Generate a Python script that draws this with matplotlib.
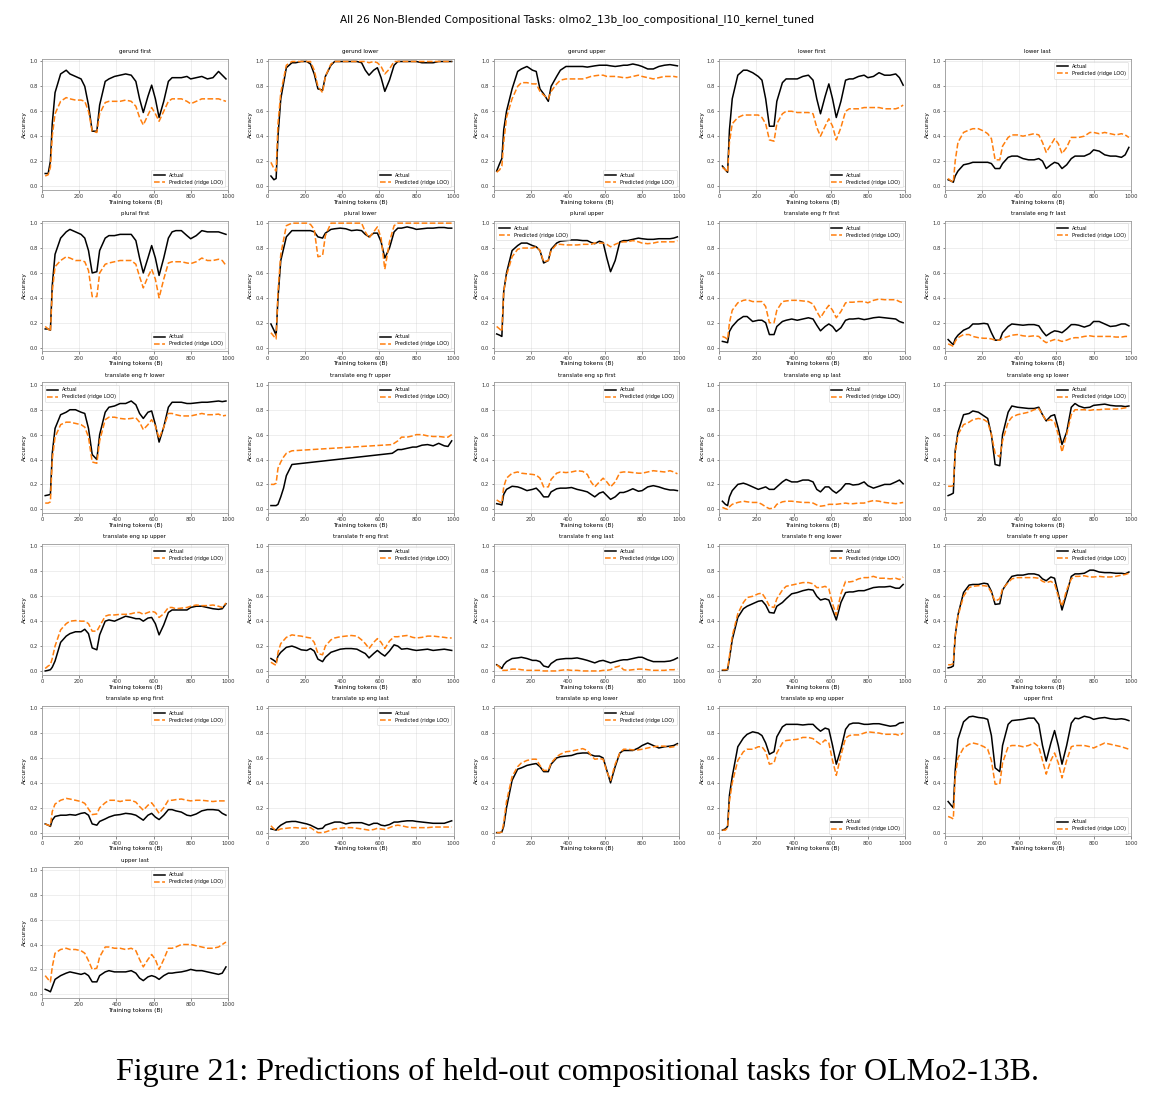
import matplotlib
matplotlib.use("Agg")
import matplotlib.pyplot as plt

# ---------------- data ----------------
tokens = [17, 33, 45, 55, 70, 100, 130, 150, 180, 210, 230, 250, 270, 295,
          310, 340, 360, 390, 420, 450, 480, 505, 525, 545, 570, 590, 610, 630,
          655, 680, 700, 720, 750, 780, 800, 830, 860, 890, 920, 950, 970, 990]
tokens_eng_fr_upper = [17, 33, 45, 55, 70, 85, 100, 130, 670, 700, 720, 750, 780,
                       800, 830, 860, 890, 920, 950, 970, 990]

task_names = ["gerund first", "gerund lower", "gerund upper", "lower first", "lower last",
              "plural first", "plural lower", "plural upper", "translate eng fr first",
              "translate eng fr last", "translate eng fr lower", "translate eng fr upper",
              "translate eng sp first", "translate eng sp last", "translate eng sp lower",
              "translate eng sp upper", "translate fr eng first", "translate fr eng last",
              "translate fr eng lower", "translate fr eng upper", "translate sp eng first",
              "translate sp eng last", "translate sp eng lower", "translate sp eng upper",
              "upper first", "upper last"]

legend_locs = ["lower right", "lower right", "lower right", "lower right", "upper right",
               "lower right", "lower right", "upper left", "upper right",
               "upper right", "upper left", "upper right",
               "upper right", "upper right", "upper right",
               "upper right", "upper right", "upper right",
               "upper right", "upper right", "upper right",
               "upper right", "upper right", "lower right",
               "lower right", "upper right"]

act_gerund_first = [0.10, 0.10, 0.20, 0.50, 0.75, 0.90, 0.93, 0.90, 0.88, 0.86, 0.80, 0.65, 0.44, 0.44,
                    0.65, 0.84, 0.86, 0.88, 0.89, 0.90, 0.89, 0.84, 0.70, 0.59, 0.72, 0.81, 0.70, 0.55,
                    0.68, 0.84, 0.87, 0.87, 0.87, 0.88, 0.86, 0.87, 0.88, 0.86, 0.87, 0.92, 0.89, 0.86]
pred_gerund_first = [0.08, 0.09, 0.15, 0.40, 0.58, 0.68, 0.71, 0.70, 0.69, 0.69, 0.68, 0.60, 0.44, 0.43,
                     0.58, 0.67, 0.68, 0.68, 0.68, 0.69, 0.68, 0.64, 0.55, 0.49, 0.57, 0.63, 0.58, 0.52,
                     0.60, 0.68, 0.70, 0.70, 0.70, 0.68, 0.66, 0.68, 0.70, 0.70, 0.70, 0.70, 0.69, 0.68]

act_gerund_lower = [0.08, 0.05, 0.06, 0.40, 0.70, 0.95, 0.99, 0.99, 1.00, 1.00, 0.98, 0.90, 0.78, 0.77,
                    0.88, 0.97, 1.00, 1.00, 1.00, 1.00, 1.00, 0.99, 0.93, 0.89, 0.93, 0.95, 0.87, 0.76,
                    0.85, 0.97, 1.00, 1.00, 1.00, 1.00, 1.00, 0.99, 0.99, 0.99, 1.00, 1.00, 1.00, 1.00]
pred_gerund_lower = [0.19, 0.14, 0.12, 0.50, 0.75, 0.97, 1.00, 1.00, 1.00, 1.00, 1.00, 0.93, 0.80, 0.75,
                     0.88, 0.98, 1.00, 1.00, 1.00, 1.00, 1.00, 1.00, 1.00, 0.99, 1.00, 0.99, 0.96, 0.90,
                     0.94, 1.00, 1.00, 1.00, 1.00, 1.00, 1.00, 1.00, 1.00, 1.00, 1.00, 1.00, 1.00, 1.00]

act_gerund_upper = [0.12, 0.18, 0.22, 0.45, 0.60, 0.78, 0.92, 0.94, 0.96, 0.93, 0.92, 0.78, 0.74, 0.68,
                    0.80, 0.88, 0.93, 0.96, 0.96, 0.96, 0.96, 0.955, 0.96, 0.965, 0.97, 0.97, 0.97, 0.965,
                    0.96, 0.965, 0.97, 0.97, 0.98, 0.97, 0.96, 0.94, 0.94, 0.96, 0.97, 0.975, 0.97, 0.965]
pred_gerund_upper = [0.11, 0.13, 0.16, 0.35, 0.55, 0.70, 0.80, 0.83, 0.83, 0.82, 0.82, 0.76, 0.73, 0.70,
                     0.76, 0.82, 0.85, 0.86, 0.86, 0.86, 0.86, 0.87, 0.88, 0.885, 0.89, 0.89, 0.88, 0.88,
                     0.88, 0.875, 0.87, 0.87, 0.88, 0.89, 0.88, 0.87, 0.86, 0.87, 0.88, 0.88, 0.88, 0.875]

act_lower_first = [0.16, 0.13, 0.11, 0.45, 0.70, 0.89, 0.93, 0.93, 0.91, 0.88, 0.85, 0.70, 0.48, 0.48,
                   0.68, 0.83, 0.86, 0.86, 0.86, 0.88, 0.89, 0.85, 0.70, 0.58, 0.72, 0.82, 0.70, 0.55,
                   0.68, 0.85, 0.86, 0.86, 0.88, 0.89, 0.87, 0.88, 0.91, 0.89, 0.89, 0.90, 0.87, 0.81]
pred_lower_first = [0.15, 0.13, 0.11, 0.35, 0.50, 0.55, 0.57, 0.57, 0.57, 0.57, 0.55, 0.50, 0.37, 0.36,
                    0.50, 0.58, 0.60, 0.60, 0.59, 0.59, 0.59, 0.58, 0.47, 0.40, 0.48, 0.54, 0.48, 0.37,
                    0.47, 0.60, 0.62, 0.62, 0.62, 0.63, 0.63, 0.63, 0.63, 0.62, 0.62, 0.62, 0.63, 0.65]

act_lower_last = [0.05, 0.04, 0.03, 0.08, 0.12, 0.17, 0.18, 0.19, 0.19, 0.19, 0.19, 0.18, 0.14, 0.14,
                  0.18, 0.23, 0.24, 0.24, 0.22, 0.21, 0.21, 0.22, 0.20, 0.14, 0.17, 0.19, 0.18, 0.14,
                  0.17, 0.22, 0.24, 0.24, 0.24, 0.26, 0.29, 0.28, 0.25, 0.24, 0.24, 0.23, 0.25, 0.31]
pred_lower_last = [0.06, 0.04, 0.03, 0.20, 0.35, 0.43, 0.45, 0.46, 0.46, 0.44, 0.42, 0.38, 0.21, 0.21,
                   0.32, 0.39, 0.41, 0.41, 0.40, 0.41, 0.42, 0.41, 0.35, 0.27, 0.33, 0.38, 0.34, 0.26,
                   0.31, 0.39, 0.39, 0.39, 0.40, 0.43, 0.43, 0.42, 0.43, 0.42, 0.41, 0.42, 0.41, 0.39]

act_plural_first = [0.15, 0.15, 0.14, 0.50, 0.75, 0.88, 0.93, 0.95, 0.93, 0.91, 0.88, 0.78, 0.60, 0.61,
                    0.78, 0.88, 0.90, 0.90, 0.91, 0.91, 0.91, 0.86, 0.72, 0.60, 0.72, 0.82, 0.72, 0.58,
                    0.72, 0.88, 0.93, 0.94, 0.94, 0.90, 0.875, 0.90, 0.94, 0.93, 0.93, 0.93, 0.92, 0.91]
pred_plural_first = [0.17, 0.15, 0.13, 0.45, 0.65, 0.70, 0.73, 0.72, 0.70, 0.70, 0.69, 0.62, 0.41, 0.41,
                     0.60, 0.67, 0.68, 0.69, 0.70, 0.70, 0.70, 0.67, 0.57, 0.48, 0.57, 0.63, 0.55, 0.40,
                     0.55, 0.68, 0.69, 0.69, 0.69, 0.68, 0.675, 0.69, 0.72, 0.70, 0.70, 0.71, 0.70, 0.66]

act_plural_lower = [0.19, 0.14, 0.10, 0.40, 0.70, 0.89, 0.94, 0.94, 0.94, 0.94, 0.94, 0.93, 0.89, 0.88,
                    0.92, 0.95, 0.955, 0.96, 0.955, 0.94, 0.945, 0.94, 0.91, 0.89, 0.92, 0.92, 0.85, 0.72,
                    0.80, 0.93, 0.96, 0.96, 0.97, 0.96, 0.95, 0.955, 0.96, 0.96, 0.965, 0.965, 0.96, 0.96]
pred_plural_lower = [0.12, 0.09, 0.07, 0.45, 0.75, 0.98, 1.00, 1.00, 1.00, 1.00, 0.99, 0.95, 0.73, 0.74,
                     0.90, 1.00, 1.00, 1.00, 1.00, 1.00, 1.00, 1.00, 0.93, 0.88, 0.93, 0.97, 0.88, 0.63,
                     0.85, 0.98, 1.00, 1.00, 1.00, 1.00, 1.00, 1.00, 1.00, 1.00, 1.00, 1.00, 1.00, 1.00]

act_plural_upper = [0.11, 0.10, 0.09, 0.45, 0.60, 0.78, 0.82, 0.84, 0.84, 0.82, 0.81, 0.78, 0.68, 0.70,
                    0.79, 0.84, 0.855, 0.86, 0.865, 0.865, 0.86, 0.86, 0.845, 0.835, 0.855, 0.845, 0.72, 0.61,
                    0.70, 0.85, 0.86, 0.86, 0.87, 0.88, 0.875, 0.87, 0.87, 0.875, 0.875, 0.875, 0.88, 0.89]
pred_plural_upper = [0.17, 0.15, 0.13, 0.45, 0.58, 0.73, 0.79, 0.80, 0.80, 0.80, 0.81, 0.78, 0.69, 0.70,
                     0.78, 0.83, 0.83, 0.825, 0.825, 0.825, 0.83, 0.83, 0.83, 0.84, 0.84, 0.84, 0.83, 0.81,
                     0.83, 0.845, 0.85, 0.85, 0.86, 0.85, 0.84, 0.835, 0.84, 0.85, 0.85, 0.85, 0.85, 0.86]

act_eng_fr_first = [0.05, 0.045, 0.04, 0.13, 0.17, 0.22, 0.25, 0.25, 0.21, 0.22, 0.22, 0.20, 0.105, 0.105,
                    0.17, 0.21, 0.22, 0.23, 0.22, 0.23, 0.24, 0.23, 0.18, 0.135, 0.17, 0.19, 0.17, 0.13,
                    0.16, 0.22, 0.23, 0.23, 0.235, 0.225, 0.23, 0.24, 0.245, 0.24, 0.235, 0.23, 0.21, 0.20]
pred_eng_fr_first = [0.09, 0.08, 0.065, 0.20, 0.30, 0.36, 0.38, 0.385, 0.37, 0.37, 0.37, 0.33, 0.20, 0.20,
                     0.30, 0.37, 0.375, 0.38, 0.38, 0.375, 0.37, 0.35, 0.29, 0.24, 0.30, 0.34, 0.30, 0.24,
                     0.29, 0.36, 0.365, 0.365, 0.37, 0.37, 0.36, 0.38, 0.39, 0.385, 0.385, 0.385, 0.37, 0.36]

act_eng_fr_last = [0.065, 0.04, 0.025, 0.07, 0.10, 0.14, 0.16, 0.19, 0.19, 0.195, 0.19, 0.12, 0.06, 0.06,
                   0.12, 0.17, 0.19, 0.185, 0.18, 0.185, 0.185, 0.175, 0.13, 0.095, 0.12, 0.135, 0.13, 0.12,
                   0.15, 0.185, 0.185, 0.18, 0.165, 0.18, 0.21, 0.21, 0.19, 0.17, 0.175, 0.19, 0.19, 0.175]
pred_eng_fr_last = [0.03, 0.02, 0.01, 0.05, 0.08, 0.105, 0.105, 0.09, 0.08, 0.075, 0.075, 0.07, 0.06, 0.06,
                    0.075, 0.09, 0.10, 0.105, 0.095, 0.09, 0.095, 0.09, 0.06, 0.04, 0.055, 0.065, 0.06, 0.05,
                    0.06, 0.075, 0.08, 0.08, 0.09, 0.095, 0.09, 0.09, 0.09, 0.09, 0.085, 0.085, 0.09, 0.09]

act_eng_fr_lower = [0.11, 0.115, 0.12, 0.45, 0.65, 0.76, 0.78, 0.80, 0.80, 0.78, 0.77, 0.65, 0.44, 0.40,
                    0.60, 0.78, 0.82, 0.83, 0.85, 0.85, 0.87, 0.84, 0.77, 0.73, 0.78, 0.79, 0.68, 0.54,
                    0.66, 0.82, 0.86, 0.86, 0.86, 0.85, 0.85, 0.855, 0.86, 0.86, 0.865, 0.87, 0.865, 0.87]
pred_eng_fr_lower = [0.05, 0.05, 0.06, 0.40, 0.58, 0.68, 0.70, 0.70, 0.69, 0.68, 0.66, 0.58, 0.38, 0.37,
                     0.55, 0.72, 0.74, 0.74, 0.73, 0.725, 0.73, 0.735, 0.70, 0.64, 0.68, 0.72, 0.67, 0.57,
                     0.66, 0.77, 0.77, 0.76, 0.75, 0.75, 0.75, 0.76, 0.77, 0.76, 0.76, 0.765, 0.75, 0.755]

act_eng_fr_upper = [0.03, 0.03, 0.03, 0.04, 0.10, 0.17, 0.27, 0.36, 0.45, 0.48, 0.48, 0.49, 0.50,
                    0.50, 0.515, 0.52, 0.51, 0.53, 0.51, 0.505, 0.55]
pred_eng_fr_upper = [0.20, 0.20, 0.21, 0.33, 0.38, 0.42, 0.45, 0.47, 0.52, 0.55, 0.58, 0.58, 0.59,
                     0.60, 0.60, 0.59, 0.585, 0.585, 0.58, 0.58, 0.60]

act_eng_sp_first = [0.045, 0.04, 0.035, 0.12, 0.16, 0.185, 0.18, 0.17, 0.15, 0.16, 0.17, 0.14, 0.10, 0.10,
                    0.14, 0.165, 0.17, 0.17, 0.175, 0.16, 0.15, 0.14, 0.12, 0.10, 0.13, 0.14, 0.11, 0.08,
                    0.10, 0.135, 0.135, 0.145, 0.165, 0.145, 0.15, 0.18, 0.19, 0.18, 0.165, 0.155, 0.155, 0.15]
pred_eng_sp_first = [0.075, 0.06, 0.05, 0.18, 0.25, 0.29, 0.30, 0.29, 0.285, 0.28, 0.275, 0.25, 0.18, 0.18,
                     0.24, 0.29, 0.30, 0.295, 0.30, 0.31, 0.305, 0.28, 0.22, 0.18, 0.22, 0.25, 0.22, 0.18,
                     0.22, 0.295, 0.30, 0.30, 0.295, 0.29, 0.29, 0.30, 0.31, 0.305, 0.30, 0.31, 0.30, 0.285]

act_eng_sp_last = [0.065, 0.04, 0.03, 0.10, 0.15, 0.20, 0.21, 0.20, 0.18, 0.16, 0.17, 0.18, 0.16, 0.16,
                   0.18, 0.22, 0.24, 0.22, 0.22, 0.235, 0.235, 0.22, 0.16, 0.14, 0.18, 0.18, 0.15, 0.13,
                   0.16, 0.205, 0.205, 0.195, 0.20, 0.22, 0.19, 0.17, 0.185, 0.20, 0.20, 0.22, 0.235, 0.205]
pred_eng_sp_last = [0.015, 0.005, 0.0, 0.02, 0.04, 0.055, 0.065, 0.06, 0.055, 0.055, 0.04, 0.02, 0.005, 0.01,
                    0.04, 0.06, 0.065, 0.065, 0.06, 0.055, 0.055, 0.05, 0.035, 0.025, 0.03, 0.04, 0.04, 0.04,
                    0.045, 0.05, 0.045, 0.045, 0.05, 0.05, 0.06, 0.07, 0.065, 0.055, 0.05, 0.045, 0.05, 0.055]

act_eng_sp_lower = [0.11, 0.12, 0.13, 0.47, 0.62, 0.76, 0.77, 0.79, 0.78, 0.75, 0.73, 0.60, 0.36, 0.35,
                    0.60, 0.78, 0.83, 0.82, 0.815, 0.81, 0.81, 0.82, 0.76, 0.71, 0.75, 0.76, 0.65, 0.52,
                    0.62, 0.82, 0.85, 0.83, 0.815, 0.82, 0.835, 0.84, 0.845, 0.835, 0.83, 0.83, 0.825, 0.83]
pred_eng_sp_lower = [0.185, 0.185, 0.19, 0.45, 0.60, 0.68, 0.70, 0.72, 0.73, 0.72, 0.70, 0.60, 0.45, 0.42,
                     0.55, 0.70, 0.74, 0.76, 0.77, 0.78, 0.80, 0.81, 0.76, 0.71, 0.72, 0.70, 0.60, 0.46,
                     0.60, 0.76, 0.80, 0.80, 0.80, 0.795, 0.80, 0.80, 0.805, 0.805, 0.805, 0.81, 0.815, 0.82]

act_eng_sp_upper = [0.0, 0.005, 0.01, 0.03, 0.08, 0.23, 0.28, 0.30, 0.315, 0.315, 0.335, 0.30, 0.185, 0.17,
                    0.29, 0.40, 0.41, 0.40, 0.42, 0.44, 0.43, 0.42, 0.42, 0.40, 0.425, 0.43, 0.38, 0.29,
                    0.37, 0.47, 0.49, 0.49, 0.49, 0.49, 0.51, 0.52, 0.52, 0.51, 0.50, 0.495, 0.50, 0.54]
pred_eng_sp_upper = [0.02, 0.04, 0.05, 0.10, 0.20, 0.33, 0.38, 0.40, 0.405, 0.40, 0.40, 0.38, 0.32, 0.32,
                     0.36, 0.44, 0.45, 0.45, 0.455, 0.455, 0.46, 0.47, 0.47, 0.455, 0.47, 0.48, 0.47, 0.43,
                     0.46, 0.51, 0.51, 0.50, 0.505, 0.51, 0.52, 0.53, 0.525, 0.525, 0.53, 0.52, 0.51, 0.545]

act_fr_eng_first = [0.10, 0.085, 0.07, 0.12, 0.15, 0.19, 0.20, 0.19, 0.17, 0.165, 0.18, 0.16, 0.095, 0.075,
                    0.11, 0.15, 0.16, 0.175, 0.18, 0.18, 0.175, 0.155, 0.14, 0.105, 0.14, 0.165, 0.14, 0.12,
                    0.16, 0.21, 0.20, 0.175, 0.18, 0.17, 0.165, 0.17, 0.175, 0.165, 0.17, 0.175, 0.17, 0.165]
pred_fr_eng_first = [0.07, 0.055, 0.045, 0.15, 0.22, 0.27, 0.29, 0.285, 0.28, 0.27, 0.265, 0.23, 0.14, 0.13,
                     0.20, 0.25, 0.265, 0.275, 0.28, 0.285, 0.28, 0.25, 0.22, 0.18, 0.23, 0.26, 0.23, 0.18,
                     0.24, 0.275, 0.275, 0.28, 0.285, 0.27, 0.265, 0.27, 0.28, 0.28, 0.275, 0.27, 0.265, 0.265]

act_fr_eng_last = [0.05, 0.035, 0.02, 0.05, 0.075, 0.10, 0.105, 0.11, 0.10, 0.085, 0.085, 0.075, 0.04, 0.03,
                   0.06, 0.09, 0.095, 0.10, 0.10, 0.105, 0.095, 0.085, 0.075, 0.065, 0.08, 0.085, 0.075, 0.065,
                   0.075, 0.085, 0.09, 0.09, 0.10, 0.11, 0.11, 0.09, 0.075, 0.075, 0.075, 0.08, 0.09, 0.105]
pred_fr_eng_last = [0.05, 0.03, 0.005, 0.005, 0.005, 0.015, 0.015, 0.01, 0.005, 0.005, 0.005, 0.005, 0.0, 0.0,
                    0.0, 0.0, 0.005, 0.01, 0.005, 0.005, 0.0, 0.0, 0.0, 0.0, 0.0, 0.005, 0.005, 0.01,
                    0.03, 0.04, 0.01, 0.005, 0.01, 0.015, 0.015, 0.01, 0.005, 0.005, 0.005, 0.01, 0.01, 0.015]

act_fr_eng_lower = [0.005, 0.005, 0.01, 0.10, 0.25, 0.43, 0.50, 0.52, 0.54, 0.56, 0.565, 0.53, 0.47, 0.465,
                    0.52, 0.55, 0.58, 0.62, 0.63, 0.645, 0.655, 0.65, 0.60, 0.57, 0.58, 0.57, 0.49, 0.41,
                    0.55, 0.63, 0.635, 0.635, 0.645, 0.645, 0.655, 0.67, 0.675, 0.675, 0.68, 0.665, 0.665, 0.695]
pred_fr_eng_lower = [0.01, 0.01, 0.015, 0.12, 0.28, 0.46, 0.55, 0.59, 0.60, 0.62, 0.625, 0.58, 0.52, 0.51,
                     0.58, 0.65, 0.68, 0.69, 0.70, 0.71, 0.71, 0.70, 0.67, 0.67, 0.68, 0.66, 0.54, 0.45,
                     0.62, 0.72, 0.715, 0.72, 0.74, 0.75, 0.75, 0.76, 0.745, 0.745, 0.74, 0.745, 0.735, 0.755]

act_fr_eng_upper = [0.025, 0.03, 0.04, 0.28, 0.45, 0.63, 0.69, 0.695, 0.695, 0.705, 0.70, 0.64, 0.535, 0.54,
                    0.65, 0.72, 0.76, 0.77, 0.77, 0.78, 0.78, 0.77, 0.74, 0.725, 0.755, 0.745, 0.62, 0.49,
                    0.62, 0.76, 0.78, 0.78, 0.785, 0.81, 0.81, 0.795, 0.79, 0.79, 0.785, 0.785, 0.78, 0.795]
pred_fr_eng_upper = [0.05, 0.05, 0.06, 0.28, 0.44, 0.60, 0.67, 0.68, 0.685, 0.685, 0.68, 0.63, 0.56, 0.58,
                     0.66, 0.71, 0.74, 0.75, 0.75, 0.75, 0.75, 0.745, 0.72, 0.71, 0.72, 0.70, 0.60, 0.52,
                     0.65, 0.74, 0.76, 0.76, 0.765, 0.755, 0.755, 0.76, 0.755, 0.755, 0.76, 0.77, 0.775, 0.785]

act_sp_eng_first = [0.07, 0.06, 0.05, 0.10, 0.13, 0.14, 0.14, 0.145, 0.14, 0.155, 0.16, 0.14, 0.07, 0.06,
                    0.09, 0.11, 0.125, 0.14, 0.145, 0.155, 0.15, 0.14, 0.12, 0.10, 0.14, 0.155, 0.125, 0.105,
                    0.14, 0.185, 0.185, 0.175, 0.165, 0.14, 0.135, 0.15, 0.175, 0.185, 0.185, 0.18, 0.155, 0.14]
pred_sp_eng_first = [0.07, 0.06, 0.055, 0.17, 0.23, 0.26, 0.275, 0.27, 0.26, 0.25, 0.235, 0.19, 0.145, 0.15,
                     0.20, 0.24, 0.26, 0.26, 0.25, 0.26, 0.26, 0.245, 0.21, 0.18, 0.22, 0.24, 0.20, 0.155,
                     0.20, 0.26, 0.26, 0.265, 0.27, 0.26, 0.255, 0.26, 0.26, 0.255, 0.25, 0.255, 0.255, 0.255]

act_sp_eng_last = [0.03, 0.025, 0.02, 0.04, 0.06, 0.085, 0.09, 0.09, 0.08, 0.07, 0.06, 0.045, 0.03, 0.035,
                   0.06, 0.075, 0.085, 0.085, 0.07, 0.08, 0.08, 0.08, 0.07, 0.06, 0.075, 0.075, 0.06, 0.055,
                   0.065, 0.085, 0.085, 0.09, 0.095, 0.095, 0.09, 0.085, 0.08, 0.075, 0.075, 0.075, 0.085, 0.095]
pred_sp_eng_last = [0.055, 0.03, 0.02, 0.02, 0.03, 0.035, 0.04, 0.04, 0.035, 0.035, 0.04, 0.02, 0.0, 0.0,
                    0.005, 0.02, 0.03, 0.035, 0.04, 0.04, 0.035, 0.03, 0.025, 0.02, 0.025, 0.035, 0.03, 0.025,
                    0.04, 0.055, 0.06, 0.055, 0.045, 0.04, 0.04, 0.04, 0.04, 0.045, 0.045, 0.045, 0.045, 0.045]

act_sp_eng_lower = [0.0, 0.0, 0.005, 0.05, 0.20, 0.42, 0.51, 0.52, 0.54, 0.55, 0.555, 0.53, 0.49, 0.49,
                    0.55, 0.60, 0.61, 0.615, 0.62, 0.635, 0.64, 0.64, 0.625, 0.615, 0.615, 0.60, 0.50, 0.40,
                    0.53, 0.64, 0.66, 0.66, 0.66, 0.68, 0.70, 0.72, 0.70, 0.68, 0.69, 0.695, 0.70, 0.715]
pred_sp_eng_lower = [0.0, 0.0, 0.005, 0.08, 0.25, 0.45, 0.53, 0.56, 0.58, 0.59, 0.59, 0.54, 0.50, 0.50,
                     0.56, 0.61, 0.63, 0.65, 0.655, 0.665, 0.675, 0.66, 0.62, 0.59, 0.595, 0.59, 0.49, 0.42,
                     0.55, 0.64, 0.67, 0.67, 0.665, 0.665, 0.67, 0.68, 0.69, 0.695, 0.695, 0.685, 0.69, 0.705]

act_sp_eng_upper = [0.02, 0.03, 0.05, 0.30, 0.45, 0.69, 0.76, 0.79, 0.81, 0.80, 0.78, 0.72, 0.63, 0.65,
                    0.77, 0.85, 0.87, 0.87, 0.87, 0.865, 0.87, 0.87, 0.84, 0.815, 0.84, 0.83, 0.70, 0.55,
                    0.67, 0.83, 0.87, 0.88, 0.88, 0.87, 0.87, 0.875, 0.875, 0.865, 0.855, 0.86, 0.88, 0.885]
pred_sp_eng_upper = [0.02, 0.02, 0.04, 0.25, 0.40, 0.58, 0.65, 0.67, 0.67, 0.69, 0.69, 0.65, 0.55, 0.56,
                     0.64, 0.72, 0.74, 0.745, 0.75, 0.765, 0.765, 0.755, 0.73, 0.71, 0.745, 0.72, 0.58, 0.46,
                     0.62, 0.76, 0.78, 0.785, 0.785, 0.80, 0.81, 0.805, 0.80, 0.79, 0.79, 0.79, 0.78, 0.80]

act_upper_first = [0.25, 0.22, 0.20, 0.50, 0.75, 0.89, 0.93, 0.935, 0.925, 0.92, 0.91, 0.78, 0.52, 0.49,
                   0.70, 0.87, 0.90, 0.905, 0.91, 0.92, 0.92, 0.87, 0.70, 0.575, 0.72, 0.82, 0.70, 0.55,
                   0.70, 0.88, 0.92, 0.915, 0.935, 0.925, 0.91, 0.92, 0.925, 0.915, 0.91, 0.915, 0.91, 0.90]
pred_upper_first = [0.13, 0.12, 0.11, 0.45, 0.60, 0.68, 0.71, 0.72, 0.71, 0.69, 0.67, 0.58, 0.39, 0.39,
                    0.56, 0.69, 0.70, 0.70, 0.69, 0.70, 0.72, 0.69, 0.58, 0.47, 0.58, 0.64, 0.56, 0.44,
                    0.58, 0.69, 0.70, 0.70, 0.70, 0.69, 0.68, 0.70, 0.72, 0.71, 0.70, 0.69, 0.68, 0.67]

act_upper_last = [0.04, 0.03, 0.02, 0.06, 0.12, 0.15, 0.17, 0.18, 0.17, 0.16, 0.17, 0.15, 0.10, 0.10,
                  0.15, 0.18, 0.19, 0.18, 0.18, 0.18, 0.19, 0.17, 0.13, 0.11, 0.14, 0.15, 0.14, 0.12,
                  0.15, 0.17, 0.17, 0.175, 0.18, 0.19, 0.20, 0.19, 0.19, 0.18, 0.17, 0.16, 0.17, 0.22]
pred_upper_last = [0.15, 0.12, 0.10, 0.22, 0.33, 0.36, 0.37, 0.36, 0.36, 0.35, 0.33, 0.27, 0.20, 0.21,
                   0.30, 0.38, 0.38, 0.37, 0.37, 0.36, 0.37, 0.35, 0.28, 0.22, 0.28, 0.32, 0.28, 0.20,
                   0.28, 0.37, 0.37, 0.38, 0.40, 0.40, 0.40, 0.39, 0.38, 0.37, 0.37, 0.38, 0.40, 0.42]

series = [
    (tokens, act_gerund_first, pred_gerund_first),
    (tokens, act_gerund_lower, pred_gerund_lower),
    (tokens, act_gerund_upper, pred_gerund_upper),
    (tokens, act_lower_first, pred_lower_first),
    (tokens, act_lower_last, pred_lower_last),
    (tokens, act_plural_first, pred_plural_first),
    (tokens, act_plural_lower, pred_plural_lower),
    (tokens, act_plural_upper, pred_plural_upper),
    (tokens, act_eng_fr_first, pred_eng_fr_first),
    (tokens, act_eng_fr_last, pred_eng_fr_last),
    (tokens, act_eng_fr_lower, pred_eng_fr_lower),
    (tokens_eng_fr_upper, act_eng_fr_upper, pred_eng_fr_upper),
    (tokens, act_eng_sp_first, pred_eng_sp_first),
    (tokens, act_eng_sp_last, pred_eng_sp_last),
    (tokens, act_eng_sp_lower, pred_eng_sp_lower),
    (tokens, act_eng_sp_upper, pred_eng_sp_upper),
    (tokens, act_fr_eng_first, pred_fr_eng_first),
    (tokens, act_fr_eng_last, pred_fr_eng_last),
    (tokens, act_fr_eng_lower, pred_fr_eng_lower),
    (tokens, act_fr_eng_upper, pred_fr_eng_upper),
    (tokens, act_sp_eng_first, pred_sp_eng_first),
    (tokens, act_sp_eng_last, pred_sp_eng_last),
    (tokens, act_sp_eng_lower, pred_sp_eng_lower),
    (tokens, act_sp_eng_upper, pred_sp_eng_upper),
    (tokens, act_upper_first, pred_upper_first),
    (tokens, act_upper_last, pred_upper_last),
]

# ---------------- figure ----------------
fig = plt.figure(figsize=(11.55, 11.05), dpi=100)
gs = fig.add_gridspec(6, 5, left=0.0364, right=0.979, top=0.9466, bottom=0.0968,
                      wspace=0.215, hspace=0.237)

fig.text(0.5, 0.982, "All 26 Non-Blended Compositional Tasks: olmo2_13b_loo_compositional_l10_kernel_tuned",
         ha="center", va="center", fontsize=7.6)

for i, (name, (xs, a, p), loc) in enumerate(zip(task_names, series, legend_locs)):
    ax = fig.add_subplot(gs[i // 5, i % 5])
    ax.plot(xs, a, color="black", lw=1.1, label="Actual")
    ax.plot(xs, p, color="#ff7f0e", lw=1.1, ls="--", label="Predicted (ridge LOO)")
    ax.set_xlim(0, 1000)
    ax.set_ylim(-0.03, 1.02)
    ax.set_xticks([0, 200, 400, 600, 800, 1000])
    ax.set_yticks([0.0, 0.2, 0.4, 0.6, 0.8, 1.0])
    ax.grid(True, color="#cccccc", lw=0.4, alpha=0.6)
    ax.tick_params(labelsize=3.8, length=1.8, width=0.4, pad=1.2, colors="#333333")
    for s in ax.spines.values():
        s.set_color("#999999")
        s.set_linewidth(0.6)
    ax.set_title(name, fontsize=4.0, pad=4)
    ax.set_xlabel("Training tokens (B)", fontsize=4.2, labelpad=0.5)
    ax.set_ylabel("Accuracy", fontsize=4.2, labelpad=1.5)
    leg = ax.legend(loc=loc, fontsize=3.6, frameon=True, framealpha=0.8,
                    handlelength=2.2, borderpad=0.5, labelspacing=0.4)
    leg.get_frame().set_linewidth(0.4)
    leg.get_frame().set_edgecolor("#cccccc")

fig.text(0.5, 0.0299, "Figure 21: Predictions of held-out compositional tasks for OLMo2-13B.",
         ha="center", va="center", fontsize=23, family="Liberation Serif")

fig.savefig("out.png", dpi=100, facecolor="white")
